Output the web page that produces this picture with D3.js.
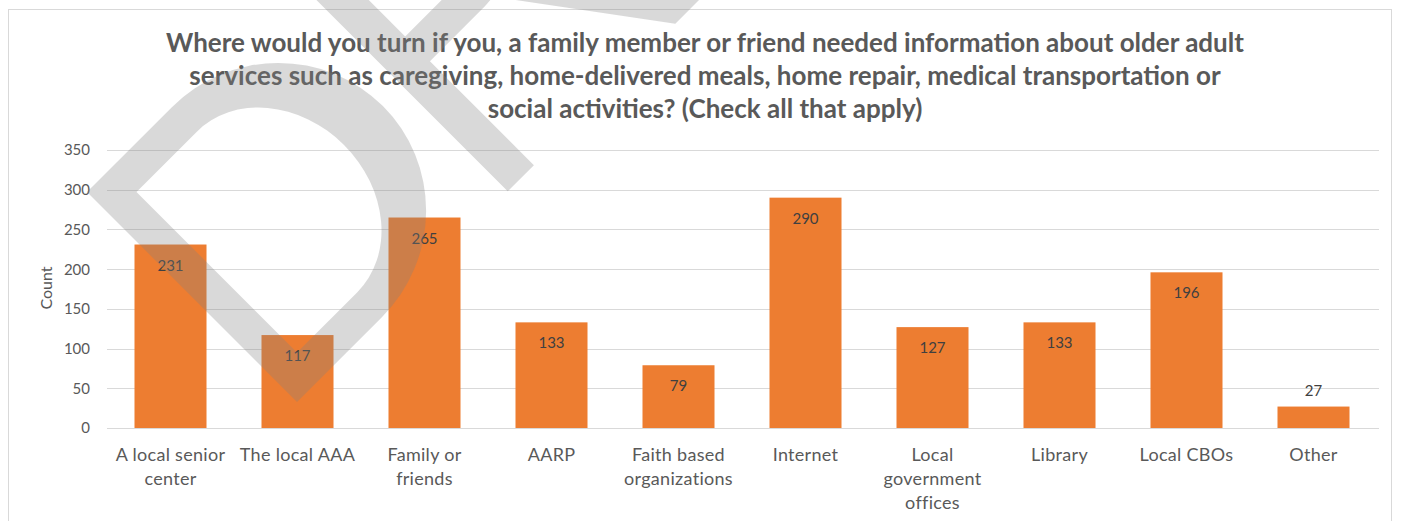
<!DOCTYPE html>
<html><head><meta charset="utf-8">
<script src="https://cdn.jsdelivr.net/npm/d3@7"></script>
<style>html,body{margin:0;padding:0;background:#fff;overflow:hidden} svg{display:block;}</style>
</head><body><svg id="c" width="1407" height="521"></svg>
<script>
// ---- data ----
const categories = ["A local senior\ncenter", "The local AAA", "Family or\nfriends", "AARP", "Faith based\norganizations", "Internet", "Local\ngovernment\noffices", "Library", "Local CBOs", "Other"];
const counts = [231, 117, 265, 133, 79, 290, 127, 133, 196, 27];
const yTicks = [0, 50, 100, 150, 200, 250, 300, 350];
const titleLines = [
  "Where would you turn if you, a family member or friend needed information about older adult",
  "services such as caregiving, home-delivered meals, home repair, medical transportation or",
  "social activities? (Check all that apply)"
];
const yAxisTitle = "Count";

// ---- drawing ----
const svg = d3.select("#c");
const FONT = "Lato, 'Open Sans', sans-serif";

svg.append("rect").attr("x", 8.5).attr("y", 9.5).attr("width", 1383).attr("height", 530)
  .attr("fill", "#fff").attr("stroke", "#d9d9d9");

const x = d3.scaleBand().domain(categories).range([107, 1377]).paddingInner(0.433).paddingOuter(0.2165);
const y = d3.scaleLinear().domain([0, 350]).range([428, 150]);

// gridlines
svg.append("g").selectAll("line").data(yTicks).join("line")
  .attr("x1", 107).attr("x2", 1379)
  .attr("y1", d => Math.round(y(d)) + 0.5).attr("y2", d => Math.round(y(d)) + 0.5)
  .attr("stroke", "#d9d9d9").attr("stroke-width", 1);

// y tick labels
svg.append("g").selectAll("text").data(yTicks).join("text")
  .attr("x", 90).attr("y", d => y(d)).attr("dy", "0.36em")
  .attr("text-anchor", "end").attr("font-family", FONT).attr("font-size", 15)
  .attr("fill", "#595959").text(d => d);

// y axis title
svg.append("text").attr("transform", "translate(52,288) rotate(-90)")
  .attr("text-anchor", "middle").attr("font-family", FONT).attr("font-size", 16)
  .attr("fill", "#595959").text(yAxisTitle);

// bars
const data = categories.map((c, i) => ({c, v: counts[i]}));
svg.append("g").selectAll("rect").data(data).join("rect")
  .attr("x", d => x(d.c)).attr("width", x.bandwidth())
  .attr("y", d => y(d.v)).attr("height", d => y(0) - y(d.v))
  .attr("fill", "#ed7d31");

// data labels
svg.append("g").selectAll("text").data(data).join("text")
  .attr("x", d => x(d.c) + x.bandwidth() / 2)
  .attr("y", d => (y(0) - y(d.v) < 30) ? y(d.v) - 11 : y(d.v) + 26)
  .attr("text-anchor", "middle").attr("font-family", FONT).attr("font-size", 15)
  .attr("fill", "#404040").text(d => d.v);

// category labels
const cl = svg.append("g").selectAll("text").data(categories).join("text")
  .attr("x", d => x(d) + x.bandwidth() / 2)
  .attr("y", 461).attr("text-anchor", "middle").attr("font-family", FONT)
  .attr("font-size", 18).attr("letter-spacing", 0.3).attr("fill", "#595959");
cl.selectAll("tspan").data(d => d.split("\n")).join("tspan")
  .attr("x", function() { return d3.select(this.parentNode).attr("x"); })
  .attr("dy", (d, i) => i === 0 ? 0 : 24).text(d => d);

// title
const tg = svg.append("g");
tg.selectAll("text").data(titleLines).join("text")
  .attr("x", 705).attr("y", (d, i) => 52 + i * 33)
  .attr("text-anchor", "middle").attr("font-family", FONT).attr("font-weight", "bold")
  .attr("font-size", 26).attr("fill", "#595959").text(d => d);

// DRAFT watermark fragment (rotated letters D and R)
const wm = svg.append("g").attr("transform", "translate(87,192) rotate(-45)")
  .attr("fill", "#808080").attr("fill-opacity", 0.3);
wm.append("path").attr("fill-rule", "evenodd")
  .attr("d", "M0,0 H120 A150,148.5 0 0 1 270,148.5 A150,148.5 0 0 1 120,297 H0 Z " +
             "M35,35 H120 A95,113.5 0 0 1 215,148.5 A95,113.5 0 0 1 120,262 H35 Z");
wm.append("path").attr("fill-rule", "evenodd")
  .attr("d", "M298,0 H410 A85,75 0 0 1 410,150 H466 L575,297 H535 L426,150 H335 V297 H298 Z " +
             "M335,35 H410 A48,40 0 0 1 410,115 H335 Z");
</script>
</body></html>
